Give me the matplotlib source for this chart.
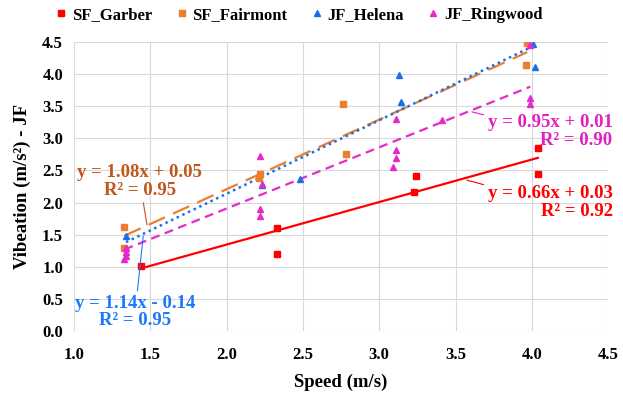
import matplotlib
matplotlib.use('Agg')
import matplotlib.pyplot as plt
import numpy as np

plt.rcParams['font.family'] = ['Liberation Serif', 'DejaVu Serif']
plt.rcParams['font.weight'] = 'bold'

# data
garber_x = [1.44, 2.33, 2.33, 3.23, 3.24, 4.04, 4.04]
garber_y = [1.02, 1.60, 1.20, 2.17, 2.42, 2.45, 2.85]

fairmont_x = [1.33, 1.33, 2.22, 2.21, 2.76, 2.78, 3.97, 3.96]
fairmont_y = [1.62, 1.30, 2.44, 2.38, 3.53, 2.76, 4.48, 4.14]

helena_x = [1.34, 2.23, 2.48, 3.13, 3.14, 4.01, 4.02]
helena_y = [1.48, 2.28, 2.37, 3.98, 3.57, 4.47, 4.10]

ringwood_x = [1.34, 1.34, 1.34, 1.33, 2.22, 2.22, 2.22, 2.23,
              3.11, 3.11, 3.11, 3.09, 3.41, 3.99, 3.99, 3.99]
ringwood_y = [1.29, 1.23, 1.18, 1.12, 2.72, 1.90, 1.80, 2.29,
              3.30, 2.82, 2.69, 2.56, 3.28, 4.45, 3.62, 3.53]

names = ['SF_Garber', 'SF_Fairmont', 'JF_Helena', 'JF_Ringwood']
slopes = [0.66, 1.08, 1.14, 0.95]
intercepts = [0.03, 0.05, -0.14, 0.01]
r2 = [0.92, 0.95, 0.95, 0.90]

xs = [garber_x, fairmont_x, helena_x, ringwood_x]
ys = [garber_y, fairmont_y, helena_y, ringwood_y]
colors = ['#FF0000', '#ED7D31', '#1A6FE8', '#E52ACB']
text_colors = ['#FF0000', '#C0561A', '#1A78FF', '#E020C0']
markers = ['s', 's', '^', '^']
line_styles = ['-', (0, (8, 4)), (0, (1, 1.5)), (0, (4, 2.5))]
line_widths = [1.6, 1.6, 1.8, 1.6]

fig = plt.figure(figsize=(6.23, 3.97), dpi=100)
ax = fig.add_axes([0.119, 0.165, 0.857, 0.73])

for i in range(4):
    ax.plot(xs[i], ys[i], linestyle='none', marker=markers[i], color=colors[i],
            markersize=5, label=names[i], zorder=3)
    xx = np.array([min(xs[i]), max(xs[i])])
    ax.plot(xx, slopes[i] * xx + intercepts[i], color=colors[i],
            linestyle=line_styles[i], lw=line_widths[i], zorder=2)

def eq_text(i):
    sign = '+' if intercepts[i] >= 0 else '-'
    return 'y = %.2fx %s %.2f\nR² = %.2f' % (slopes[i], sign, abs(intercepts[i]), r2[i])

# label positions / leader points (data coords)
label_pos = [(4.53, 2.00), (1.43, 2.33), (1.40, 0.30), (4.53, 3.11)]
leader_pts = [(3.575, 2.35), (1.478, 1.654), (1.453, 1.483), (3.608, 3.41)]
has = ['right', 'center', 'center', 'right']

for i in range(4):
    ax.annotate(eq_text(i), xy=leader_pts[i], xytext=label_pos[i],
                ha=has[i], va='center', multialignment=has[i],
                fontsize=13.5, fontfamily='Liberation Serif', fontweight='bold',
                color=text_colors[i],
                linespacing=1.05, annotation_clip=False, zorder=5,
                arrowprops=dict(arrowstyle='-', color=text_colors[i], lw=0.8,
                                shrinkA=1, shrinkB=0))

ax.set_xlim(1.0, 4.5)
ax.set_ylim(0.0, 4.5)
ax.set_xticks(np.arange(1.0, 4.51, 0.5))
ax.set_yticks(np.arange(0.0, 4.51, 0.5))
ax.set_xticklabels(['%.1f' % v for v in np.arange(1.0, 4.51, 0.5)])
ax.set_yticklabels(['%.1f' % v for v in np.arange(0.0, 4.51, 0.5)])
ax.tick_params(length=0, labelsize=12)
ax.tick_params(axis='x', pad=11)
ax.tick_params(axis='y', pad=8)
for lab in ax.get_xticklabels() + ax.get_yticklabels():
    lab.set_fontweight('bold')
ax.grid(True, color='#D9D9D9', lw=0.8)
ax.set_axisbelow(True)
for s in ax.spines.values():
    s.set_visible(False)

ax.set_xlabel('Speed (m/s)', fontsize=13.5, fontweight='bold', labelpad=8)
ax.set_ylabel('Vibeation (m/s²) - JF', fontsize=13.5, fontweight='bold', labelpad=8)

fig.legend(loc='upper center', bbox_to_anchor=(0.48, 1.02), ncol=4, frameon=False,
           markerscale=0.75, handlelength=0.7, handletextpad=0.3,
           columnspacing=1.4, prop={'weight': 'bold', 'size': 12})

fig.savefig('out.png', dpi=100)
